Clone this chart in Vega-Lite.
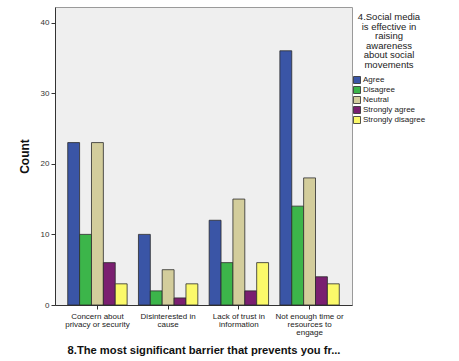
{
  "$schema": "https://vega.github.io/schema/vega-lite/v6.json",
  "width": 297,
  "height": 298,
  "autosize": {"type": "none"},
  "padding": {"left": 55, "top": 7, "right": 107, "bottom": 56},
  "background": "#ffffff",
  "config": {
    "font": "Liberation Sans",
    "view": {"fill": "#efefef", "stroke": "#9a9a9a", "strokeWidth": 1}
  },
  "data": {
    "values": [
      {"barrier": "Concern about privacy or security", "response": "Agree", "count": 23},
      {"barrier": "Concern about privacy or security", "response": "Disagree", "count": 10},
      {"barrier": "Concern about privacy or security", "response": "Neutral", "count": 23},
      {"barrier": "Concern about privacy or security", "response": "Strongly agree", "count": 6},
      {"barrier": "Concern about privacy or security", "response": "Strongly disagree", "count": 3},
      {"barrier": "Disinterested in cause", "response": "Agree", "count": 10},
      {"barrier": "Disinterested in cause", "response": "Disagree", "count": 2},
      {"barrier": "Disinterested in cause", "response": "Neutral", "count": 5},
      {"barrier": "Disinterested in cause", "response": "Strongly agree", "count": 1},
      {"barrier": "Disinterested in cause", "response": "Strongly disagree", "count": 3},
      {"barrier": "Lack of trust in information", "response": "Agree", "count": 12},
      {"barrier": "Lack of trust in information", "response": "Disagree", "count": 6},
      {"barrier": "Lack of trust in information", "response": "Neutral", "count": 15},
      {"barrier": "Lack of trust in information", "response": "Strongly agree", "count": 2},
      {"barrier": "Lack of trust in information", "response": "Strongly disagree", "count": 6},
      {"barrier": "Not enough time or resources to engage", "response": "Agree", "count": 36},
      {"barrier": "Not enough time or resources to engage", "response": "Disagree", "count": 14},
      {"barrier": "Not enough time or resources to engage", "response": "Neutral", "count": 18},
      {"barrier": "Not enough time or resources to engage", "response": "Strongly agree", "count": 4},
      {"barrier": "Not enough time or resources to engage", "response": "Strongly disagree", "count": 3}
    ]
  },
  "mark": {"type": "bar", "stroke": "#2b2b2b", "strokeWidth": 0.8},
  "encoding": {
    "x": {
      "field": "barrier",
      "type": "nominal",
      "sort": null,
      "scale": {"paddingInner": 0.16, "paddingOuter": 0.18},
      "axis": {
        "title": "8.The most significant barrier that prevents you fr...",
        "titleFont": "Liberation Sans",
        "titleFontSize": 11.2,
        "titleFontWeight": "bold",
        "titleColor": "#111111",
        "titlePadding": 8,
        "labelAngle": 0,
        "labelFontSize": 8,
        "labelColor": "#222222",
        "labelLineHeight": 8,
        "labelPadding": 3,
        "tickSize": 4,
        "tickColor": "#333333",
        "domainColor": "#333333",
        "labelExpr": "datum.value == 'Concern about privacy or security' ? ['Concern about', 'privacy or security'] : datum.value == 'Disinterested in cause' ? ['Disinterested in', 'cause'] : datum.value == 'Lack of trust in information' ? ['Lack of trust in', 'information'] : ['Not enough time or', 'resources to', 'engage']"
      }
    },
    "xOffset": {
      "field": "response",
      "type": "nominal",
      "sort": ["Agree", "Disagree", "Neutral", "Strongly agree", "Strongly disagree"],
      "scale": {"paddingInner": 0, "paddingOuter": 0}
    },
    "y": {
      "field": "count",
      "type": "quantitative",
      "scale": {"domain": [0, 42.2], "nice": false},
      "axis": {
        "title": "Count",
        "titleFont": "Liberation Sans",
        "titleFontSize": 12,
        "titleFontWeight": "bold",
        "titleColor": "#111111",
        "titlePadding": 9,
        "values": [0, 10, 20, 30, 40],
        "grid": false,
        "labelFontSize": 8,
        "labelColor": "#333333",
        "tickSize": 4,
        "tickColor": "#333333",
        "domainColor": "#333333"
      }
    },
    "color": {
      "field": "response",
      "type": "nominal",
      "sort": ["Agree", "Disagree", "Neutral", "Strongly agree", "Strongly disagree"],
      "scale": {
        "domain": ["Agree", "Disagree", "Neutral", "Strongly agree", "Strongly disagree"],
        "range": ["#3a55a6", "#3cb54a", "#d3cd9c", "#7a1f70", "#fbf96a"]
      },
      "legend": {
        "orient": "none",
        "legendX": 298,
        "legendY": 5,
        "title": ["4.Social media", "is effective in", "raising", "awareness", "about social", "movements"],
        "titleFontSize": 9.5,
        "titleFontWeight": "normal",
        "titleColor": "#222222",
        "titleAnchor": "middle",
        "titleAlign": "center",
        "titleLineHeight": 9.5,
        "titlePadding": 7,
        "symbolType": "square",
        "symbolSize": 49,
        "symbolStrokeColor": "#2b2b2b",
        "symbolStrokeWidth": 0.8,
        "labelFontSize": 8,
        "labelColor": "#222222",
        "labelOffset": 2,
        "rowPadding": -2.5
      }
    }
  }
}
